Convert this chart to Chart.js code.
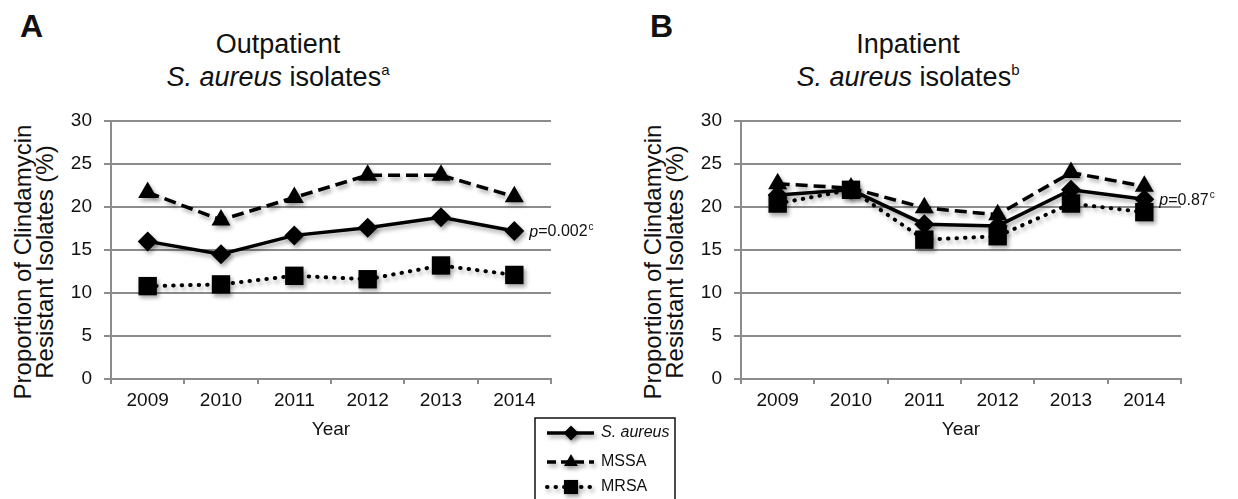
<!DOCTYPE html>
<html>
<head>
<meta charset="utf-8">
<script src="https://cdn.jsdelivr.net/npm/chart.js@4.4.0/dist/chart.umd.min.js"></script>
<style>
  html, body { margin: 0; padding: 0; background: #fff; }
  body { width: 1238px; height: 499px; position: relative; overflow: hidden;
         font-family: Arial, "Liberation Sans", Helvetica, sans-serif; color: #111; }
  canvas { position: absolute; top: 0; }
  .panel { position: absolute; top: 11px; font-size: 32px; line-height: 31px; font-weight: bold; }
  .ttl { position: absolute; top: 28px; width: 400px; text-align: center;
         font-size: 27px; line-height: 33px; }
  .ttl sup { font-size: 15px; vertical-align: 11px; line-height: 0; }
  .ytitle { position: absolute; top: 240px; width: 400px; height: 44px; text-align: center;
            font-size: 24px; line-height: 22px; transform: rotate(-90deg); white-space: nowrap; }
</style>
</head>
<body>
<div class="panel" style="left:20px">A</div>
<div class="panel" style="left:650px">B</div>
<div class="ttl" style="left:78px">Outpatient<br><i>S. aureus</i> isolates<sup>a</sup></div>
<div class="ttl" style="left:708px">Inpatient<br><i>S. aureus</i> isolates<sup>b</sup></div>
<div class="ytitle" style="left:-166px">Proportion of Clindamycin<br>Resistant Isolates (%)</div>
<div class="ytitle" style="left:464px">Proportion of Clindamycin<br>Resistant Isolates (%)</div>
<canvas id="chartA" width="700" height="499" style="left:0"></canvas>
<canvas id="chartB" width="608" height="499" style="left:630px"></canvas>
<script>
// data
const years = ['2009', '2010', '2011', '2012', '2013', '2014'];
const yTickValues = [0, 5, 10, 15, 20, 25, 30];

const outSaureus = [16.0, 14.5, 16.7, 17.6, 18.8, 17.2];
const outMSSA    = [21.7, 18.5, 21.1, 23.7, 23.7, 21.2];
const outMRSA    = [10.8, 11.0, 12.0, 11.6, 13.2, 12.1];

const inSaureus = [21.4, 22.0, 18.0, 17.8, 22.0, 20.9];
const inMSSA    = [22.7, 22.2, 19.9, 19.1, 24.0, 22.4];
const inMRSA    = [20.4, 22.0, 16.2, 16.6, 20.4, 19.4];

const seriesNames = ['S. aureus', 'MSSA', 'MRSA'];

Chart.defaults.color = '#111';
Chart.defaults.font.family = 'Arial, "Liberation Sans", Helvetica, sans-serif';

const GRID = '#8c8c8c';
const FONT = 'Arial, "Liberation Sans", sans-serif';

function setShadow(ctx) {
    ctx.shadowColor = 'rgba(0,0,0,0.35)';
    ctx.shadowBlur = 4;
    ctx.shadowOffsetX = 2;
    ctx.shadowOffsetY = 3;
}

// soft drop shadow on lines and markers, like the original
const shadowPlugin = {
    id: 'shadow',
    beforeDatasetsDraw(chart) { chart.ctx.save(); setShadow(chart.ctx); },
    afterDatasetsDraw(chart) { chart.ctx.restore(); }
};

// p-value note next to the last S. aureus point
const pvalPlugin = {
    id: 'pval',
    afterDraw(chart, args, opts) {
        if (!opts || !opts.text) return;
        const meta = chart.getDatasetMeta(0);
        const pt = meta.data[meta.data.length - 1];
        const ctx = chart.ctx;
        let x = pt.x + 15, y = pt.y + 1;
        ctx.save();
        ctx.fillStyle = '#111';
        ctx.textBaseline = 'middle';
        ctx.textAlign = 'left';
        ctx.font = 'italic 16px ' + FONT;
        ctx.fillText('p', x, y);
        x += ctx.measureText('p').width;
        ctx.font = '16px ' + FONT;
        ctx.fillText(opts.text, x, y);
        x += ctx.measureText(opts.text).width + 1;
        ctx.font = '10px ' + FONT;
        ctx.fillText(opts.sup, x, y - 5);
        ctx.restore();
    }
};

function drawMarker(ctx, style, r, x, y) {
    if (Chart.helpers && Chart.helpers.drawPoint) {
        Chart.helpers.drawPoint(ctx, {pointStyle: style, radius: r, rotation: 0, borderWidth: 0}, x, y);
        return;
    }
    ctx.beginPath();
    if (style === 'rectRot') {
        ctx.moveTo(x - r, y); ctx.lineTo(x, y - r); ctx.lineTo(x + r, y); ctx.lineTo(x, y + r);
    } else if (style === 'triangle') {
        ctx.moveTo(x, y - r); ctx.lineTo(x + r * 0.866, y + r / 2); ctx.lineTo(x - r * 0.866, y + r / 2);
    } else {
        const s = r * Math.SQRT1_2;
        ctx.rect(x - s, y - s, 2 * s, 2 * s);
    }
    ctx.closePath();
    ctx.fill();
}

// boxed legend that sits between the two panels
const legendPlugin = {
    id: 'boxLegend',
    afterDraw(chart, args, opts) {
        if (!opts || !opts.show) return;
        const ctx = chart.ctx;
        ctx.save();
        ctx.strokeStyle = '#111';
        ctx.lineWidth = 1.5;
        ctx.strokeRect(opts.x, opts.y, opts.w, 100);
        const rows = [433, 462, 487];
        const sizes = [7.5, 8, 10];
        chart.data.datasets.forEach((ds, i) => {
            const y = rows[i];
            ctx.save();
            setShadow(ctx);
            ctx.strokeStyle = '#000';
            ctx.fillStyle = '#000';
            ctx.lineWidth = ds.borderWidth;
            ctx.lineCap = ds.borderCapStyle || 'butt';
            ctx.setLineDash(i === 1 ? [9, 5] : (ds.borderDash || []));
            ctx.beginPath();
            ctx.moveTo(opts.x + 12, y);
            ctx.lineTo(opts.x + 59, y);
            ctx.stroke();
            ctx.setLineDash([]);
            drawMarker(ctx, ds.pointStyle, sizes[i], opts.x + 36, y);
            ctx.restore();
            ctx.fillStyle = '#111';
            ctx.textBaseline = 'middle';
            ctx.font = (i === 0 ? 'italic ' : '') + '16px ' + FONT;
            ctx.fillText(ds.label, opts.x + 66, y);
        });
        ctx.restore();
    }
};

function makeChart(id, sa, mssa, mrsa, pText, pSup, legend) {
    const canvas = document.getElementById(id);
    const W = canvas.width;
    return new Chart(canvas.getContext('2d'), {
        type: 'line',
        data: {
            labels: years,
            datasets: [
                {
                    label: seriesNames[0], data: sa, order: 3,
                    borderColor: '#000', backgroundColor: '#000', borderWidth: 3.5,
                    pointStyle: 'rectRot', pointRadius: 10,
                    pointBackgroundColor: '#000', pointBorderWidth: 0
                },
                {
                    label: seriesNames[1], data: mssa, order: 2,
                    borderColor: '#000', backgroundColor: '#000', borderWidth: 3.5,
                    borderDash: [12, 6],
                    pointStyle: 'triangle', pointRadius: 11,
                    pointBackgroundColor: '#000', pointBorderWidth: 0
                },
                {
                    label: seriesNames[2], data: mrsa, order: 1,
                    borderColor: '#000', backgroundColor: '#000', borderWidth: 4,
                    borderDash: [0.5, 8], borderCapStyle: 'round',
                    pointStyle: 'rect', pointRadius: 13,
                    pointBackgroundColor: '#000', pointBorderWidth: 0
                }
            ]
        },
        options: {
            responsive: false,
            animation: false,
            devicePixelRatio: 1,
            events: [],
            layout: { padding: { left: 0, top: 121, right: W - 551, bottom: 0 } },
            elements: { line: { tension: 0 } },
            scales: {
                x: {
                    offset: true,
                    afterFit(s) { s.height = 120; },
                    grid: {
                        offset: true, drawOnChartArea: false, drawTicks: true,
                        tickLength: 5, color: GRID, lineWidth: 2
                    },
                    border: { display: true, color: GRID, width: 2 },
                    ticks: { font: { size: 19 }, padding: 5, maxRotation: 0, color: '#111' },
                    title: {
                        display: true, text: 'Year', color: '#111',
                        font: { size: 19 }, padding: { top: 0, bottom: 58 }
                    }
                },
                y: {
                    min: 0, max: 30,
                    afterFit(s) { s.width = 111; },
                    afterBuildTicks(s) { s.ticks = yTickValues.map(v => ({ value: v })); },
                    grid: { color: GRID, lineWidth: 2, tickLength: 7 },
                    border: { display: true, color: GRID, width: 2 },
                    ticks: { font: { size: 19 }, padding: 12, color: '#111' }
                }
            },
            plugins: {
                legend: { display: false },
                tooltip: { enabled: false },
                pval: { text: pText, sup: pSup },
                boxLegend: legend
            }
        },
        plugins: [shadowPlugin, pvalPlugin, legendPlugin]
    });
}

makeChart('chartA', outSaureus, outMSSA, outMRSA, '=0.002', 'c', { show: true, x: 535, y: 418, w: 140 });
makeChart('chartB', inSaureus, inMSSA, inMRSA, '=0.87', 'c', { show: false });
</script>
</body>
</html>
